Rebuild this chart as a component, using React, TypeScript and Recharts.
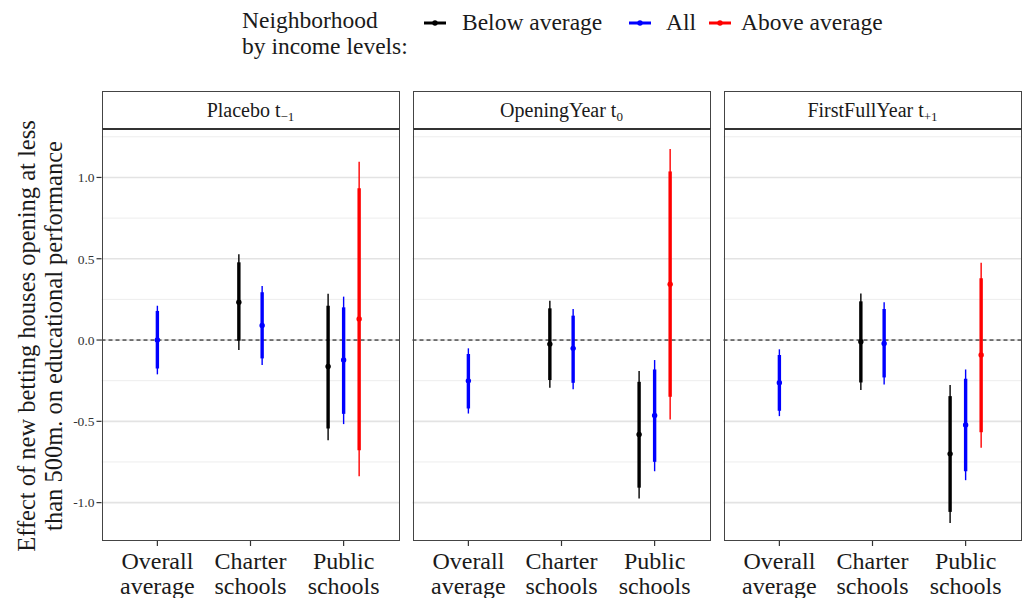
import React from "react";
import { ScatterChart, Scatter, XAxis, YAxis, ErrorBar, ReferenceLine } from "recharts";

const FONT = '"Liberation Serif", "Times New Roman", Times, serif';

const categories = ["Overall average", "Charter schools", "Public schools"];
const groups = ["Below average", "All", "Above average"];
const groupColors = ["#000000", "#0000ff", "#ff0000"];
const majorTicks = [-1, -0.5, 0, 0.5, 1];
const minorTicks = [-0.75, -0.25, 0.25, 0.75, 1.25];

// [category, group, estimate, lo90, hi90, lo95, hi95]
const placeboRows: [string, string, number, number, number, number, number][] = [
  ["Overall average", "All", 0.0, -0.175, 0.179, -0.211, 0.211],
  ["Charter schools", "Below average", 0.232, -0.004, 0.478, -0.062, 0.528],
  ["Charter schools", "All", 0.09, -0.113, 0.294, -0.154, 0.333],
  ["Public schools", "Below average", -0.162, -0.544, 0.211, -0.616, 0.285],
  ["Public schools", "All", -0.123, -0.454, 0.201, -0.517, 0.267],
  ["Public schools", "Above average", 0.129, -0.678, 0.934, -0.838, 1.097],
];
const openingRows: [string, string, number, number, number, number, number][] = [
  ["Overall average", "All", -0.251, -0.421, -0.086, -0.452, -0.051],
  ["Charter schools", "Below average", -0.025, -0.246, 0.195, -0.294, 0.242],
  ["Charter schools", "All", -0.051, -0.263, 0.15, -0.302, 0.191],
  ["Public schools", "Below average", -0.581, -0.908, -0.257, -0.975, -0.191],
  ["Public schools", "All", -0.464, -0.749, -0.181, -0.807, -0.123],
  ["Public schools", "Above average", 0.343, -0.349, 1.037, -0.489, 1.175],
];
const firstFullRows: [string, string, number, number, number, number, number][] = [
  ["Overall average", "All", -0.263, -0.435, -0.092, -0.468, -0.057],
  ["Charter schools", "Below average", -0.01, -0.261, 0.238, -0.308, 0.287],
  ["Charter schools", "All", -0.021, -0.23, 0.191, -0.273, 0.232],
  ["Public schools", "Below average", -0.7, -1.057, -0.345, -1.125, -0.277],
  ["Public schools", "All", -0.522, -0.807, -0.238, -0.862, -0.181],
  ["Public schools", "Above average", -0.092, -0.567, 0.38, -0.663, 0.476],
];

const DODGE = 0.5;

function buildSeries(rows: [string, string, number, number, number, number, number][]) {
  return groups.map((g) => {
    const pts: any[] = [];
    rows.forEach((r) => {
      if (r[1] !== g) return;
      const ci = categories.indexOf(r[0]);
      const present = groups.filter((gg) => rows.some((rr) => rr[0] === r[0] && rr[1] === gg));
      const n = present.length;
      const i = present.indexOf(g);
      const x = ci + 1 + (i - (n - 1) / 2) * (DODGE / n);
      const est = r[2];
      pts.push({ x, y: est, e90: [est - r[3], r[4] - est], e95: [est - r[5], r[6] - est] });
    });
    return pts;
  });
}

const PANEL_W = 298;
const PLOT_TOP = 129;
const PLOT_BOTTOM = 541;
const STRIP_TOP = 91;

const CatTick = (props: any) => {
  const { x, y, payload } = props;
  const label = categories[Math.round(payload.value) - 1] || "";
  const [a, b] = label.split(" ");
  return (
    <text x={x} y={y} textAnchor="middle" fontFamily={FONT} fontSize={24} fill="#1a1a1a" style={{ fontFamily: FONT }}>
      <tspan x={x} dy={21}>{a}</tspan>
      <tspan x={x} dy={25}>{b}</tspan>
    </text>
  );
};

function Panel({ rows, left, showY }: { rows: any; left: number; showY: boolean }) {
  const series = buildSeries(rows);
  return (
    <div style={{ position: "absolute", left: 0, top: 0 }}>
      <ScatterChart
        width={1026}
        height={598}
        margin={{ top: PLOT_TOP, bottom: 0, left: showY ? 0 : left, right: 1026 - left - PANEL_W }}
      >
        <XAxis
          type="number"
          dataKey="x"
          domain={[0.4, 3.6]}
          ticks={[1, 2, 3]}
          interval={0}
          height={598 - PLOT_BOTTOM}
          axisLine={false}
          tickLine={{ stroke: "#333", strokeWidth: 1.2 }}
          tickSize={5}
          tick={CatTick}
          allowDataOverflow
        />
        <YAxis
          type="number"
          dataKey="y"
          domain={[-1.236, 1.298]}
          ticks={majorTicks}
          width={showY ? left : 0}
          hide={!showY}
          axisLine={false}
          tickSize={5}
          tickLine={{ stroke: "#333", strokeWidth: 1.2 }}
          tick={{ fontFamily: FONT, fontSize: 13.5, fill: "#333" }}
          tickFormatter={(v: number) => v.toFixed(1)}
          allowDataOverflow
        />
        {minorTicks.map((v) => (
          <ReferenceLine key={"mi" + v} y={v} stroke="#ededed" strokeWidth={1} />
        ))}
        {majorTicks.map((v) => (
          <ReferenceLine key={"ma" + v} y={v} stroke="#e3e3e3" strokeWidth={1.6} />
        ))}
        <ReferenceLine y={0} stroke="#000" strokeWidth={1} strokeDasharray="4 3" />
        {series.map((pts, gi) => (
          <Scatter
            key={groups[gi]}
            name={groups[gi]}
            data={pts}
            isAnimationActive={false}
            shape={(p: any) => <circle cx={p.cx} cy={p.cy} r={2.7} fill={groupColors[gi]} />}
          >
            <ErrorBar dataKey="e95" direction="y" width={0} stroke={groupColors[gi]} strokeWidth={1.4} isAnimationActive={false} />
            <ErrorBar dataKey="e90" direction="y" width={0} stroke={groupColors[gi]} strokeWidth={3.4} isAnimationActive={false} />
          </Scatter>
        ))}
      </ScatterChart>
    </div>
  );
}

const panelTitles = [
  { main: "Placebo t", sub: "\u22121", rows: placeboRows, left: 101.5 },
  { main: "OpeningYear t", sub: "0", rows: openingRows, left: 412.5 },
  { main: "FirstFullYear t", sub: "+1", rows: firstFullRows, left: 723.5 },
];

const LegendKey = ({ color }: { color: string }) => (
  <svg width={24} height={10} style={{ position: "absolute", left: 0, top: 0 }}>
    <line x1={1} y1={5} x2={23} y2={5} stroke={color} strokeWidth={3} />
    <circle cx={12} cy={5} r={2.7} fill={color} />
  </svg>
);

export default function App() {
  const legendItems = [
    { label: groups[0], color: groupColors[0], keyX: 423, textX: 462 },
    { label: groups[1], color: groupColors[1], keyX: 628, textX: 666 },
    { label: groups[2], color: groupColors[2], keyX: 708, textX: 741 },
  ];
  return (
    <div style={{ position: "absolute", left: 0, top: 0, width: 1026, height: 598, background: "#fff", overflow: "hidden", fontFamily: FONT }}>
      {panelTitles.map((p, i) => (
        <Panel key={i} rows={p.rows} left={p.left} showY={i === 0} />
      ))}
      {panelTitles.map((p, i) => (
        <React.Fragment key={"s" + i}>
          <div
            style={{
              position: "absolute",
              left: p.left,
              top: STRIP_TOP,
              width: PANEL_W,
              height: PLOT_TOP - STRIP_TOP,
              border: "1px solid #444",
              borderBottom: "none",
              boxSizing: "border-box",
              textAlign: "center",
              fontSize: 20,
              lineHeight: "37px",
              color: "#1a1a1a",
            }}
          >
            {p.main}
            <sub style={{ fontSize: 13, verticalAlign: "-4px" }}>{p.sub}</sub>
          </div>
          <div
            style={{
              position: "absolute",
              left: p.left,
              top: PLOT_TOP - 1,
              width: PANEL_W,
              height: PLOT_BOTTOM - PLOT_TOP + 1,
              border: "1px solid #444",
              borderTop: "2px solid #333",
              boxSizing: "border-box",
            }}
          />
        </React.Fragment>
      ))}
      <svg width={1026} height={598} style={{ position: "absolute", left: 0, top: 0, pointerEvents: "none" }}>
        <text transform="translate(26,336) rotate(-90)" textAnchor="middle" dominantBaseline="central" fontFamily={FONT} fontSize={24.5} fill="#1a1a1a">
          Effect of new betting houses opening at less
        </text>
        <text transform="translate(53,336) rotate(-90)" textAnchor="middle" dominantBaseline="central" fontFamily={FONT} fontSize={24.5} fill="#1a1a1a">
          than 500m. on educational performance
        </text>
      </svg>
      <div style={{ position: "absolute", left: 242, top: 7, fontSize: 23.5, lineHeight: "26px", color: "#1a1a1a", whiteSpace: "nowrap" }}>
        Neighborhood
        <br />
        by income levels:
      </div>
      {legendItems.map((it) => (
        <React.Fragment key={it.label}>
          <div style={{ position: "absolute", left: it.keyX, top: 18, width: 24, height: 10 }}>
            <LegendKey color={it.color} />
          </div>
          <div style={{ position: "absolute", left: it.textX, top: 9, fontSize: 23.5, lineHeight: "26px", color: "#1a1a1a", whiteSpace: "nowrap" }}>
            {it.label}
          </div>
        </React.Fragment>
      ))}
    </div>
  );
}
